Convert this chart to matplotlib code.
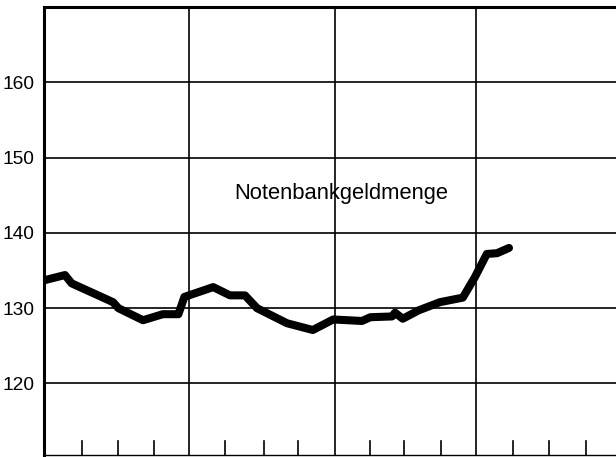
import numpy as np
import matplotlib.pyplot as plt

# Notenbankgeldmenge (x in months from start)
months = [0, 1.75, 2.3, 5.75, 6.2, 8.25, 9.9, 11.2, 11.7, 13, 14.1, 15.5, 16.75,
          17.75, 20.25, 22.4, 24.1, 26.5, 27.2, 29, 29.25, 29.9, 31.2, 33,
          34.9, 35.9, 36.9, 37.75, 38.75]
values = [133.7, 134.4, 133.3, 130.8, 130.0, 128.4, 129.2, 129.2, 131.5, 132.2,
          132.8, 131.7, 131.7, 130.0, 128.0, 127.1, 128.5, 128.3, 128.8, 128.9,
          129.4, 128.6, 129.7, 130.8, 131.4, 134.1, 137.2, 137.3, 138.0]
y_ticks = [120, 130, 140, 150, 160]
year_lines = [12.05, 24.25, 36]
quarter_ticks = [3.2, 6.2, 9.2, 15.1, 18.3, 21.2, 27.2, 30, 33.1, 39.1, 42.1, 45.2]

fig = plt.figure(figsize=(6.16, 4.57), dpi=100)
ax = fig.add_axes([44/616, 2/457, 1 - 44/616, 448/457])
ax.set_xlim(0, 572/12)
ax.set_ylim(110.5, 170)

for y in y_ticks:
    ax.axhline(y, color='black', lw=1.2, zorder=1)
for x in year_lines:
    ax.axvline(x, color='black', lw=1.2, zorder=1)
for x in quarter_ticks:
    ax.plot([x, x], [110.5, 112.3], color='black', lw=1.2, zorder=1)

ax.plot(months, values, color='black', lw=5.8, solid_capstyle='round',
        solid_joinstyle='round', zorder=3)

ax.text(24.75, 145.2, 'Notenbankgeldmenge', ha='center', va='center',
        fontsize=15.8, family='Liberation Sans')

ax.set_yticks(y_ticks)
ax.set_yticklabels([str(v) for v in y_ticks], family='Liberation Sans', fontsize=13.8)
ax.tick_params(axis='y', length=0, pad=7)
ax.set_xticks([])
ax.spines['right'].set_visible(False)
ax.spines['left'].set_linewidth(2.2)
ax.spines['top'].set_linewidth(2.2)
ax.spines['bottom'].set_linewidth(1.0)

plt.savefig('out.png', dpi=100)
